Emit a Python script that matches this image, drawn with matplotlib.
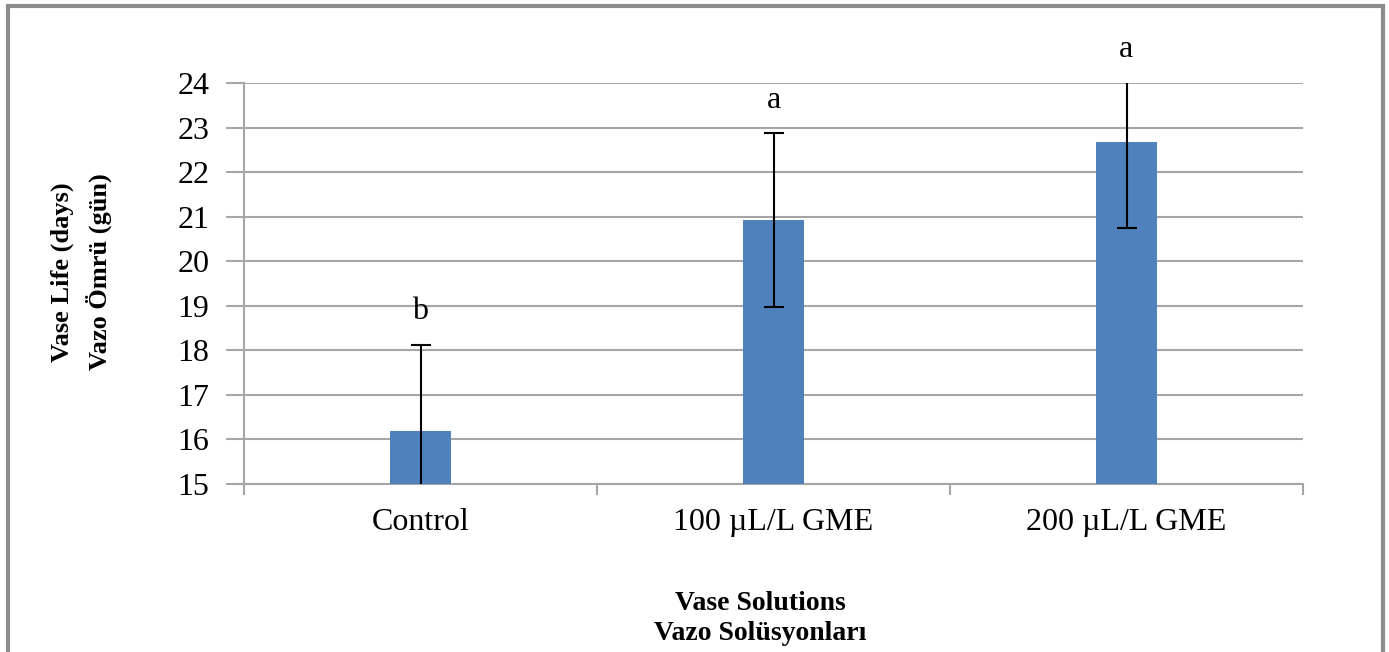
import matplotlib
matplotlib.use("Agg")
import matplotlib.pyplot as plt
from matplotlib.patches import Rectangle

# Vase life data (mean ± error) per vase solution
categories = ["Control", "100 µL/L GME", "200 µL/L GME"]
vase_life = [16.19, 20.92, 22.67]
errors = [1.93, 1.95, 1.93]
letters = ["b", "a", "a"]
y_ticks = [15, 16, 17, 18, 19, 20, 21, 22, 23, 24]

plt.rcParams["font.family"] = ["Liberation Serif", "DejaVu Serif"]

fig = plt.figure(figsize=(13.89, 6.52), dpi=100)
W, H = 1389, 652
ax = fig.add_axes([244 / W, 1 - 484 / H, (1303 - 244) / W, (484 - 83) / H])

grid_c = "#a6a6a6"
y_min, y_max = y_ticks[0], y_ticks[-1]
x = list(range(len(categories)))
ax.bar(x, vase_life, width=0.175, color="#4F81BD", zorder=3)
ax.errorbar(x, vase_life, yerr=errors, fmt="none", ecolor="black",
            elinewidth=1.5, capsize=7, capthick=1.5, zorder=4)

# significance letters sit just above the visible end of each error bar
for xi, v, e, t in zip(x, vase_life, errors, letters):
    top = min(v + e, y_max)
    ax.text(xi, top + 0.42, t, ha="center", va="bottom", fontsize=23,
            clip_on=False)

ax.set_xlim(-0.5, len(categories) - 0.5)
ax.set_ylim(y_min, y_max)
ax.set_yticks(y_ticks)
ax.yaxis.grid(True, color=grid_c, linewidth=1.5, zorder=0)
ax.set_axisbelow(True)

ax.set_xticks([i - 0.5 for i in range(len(categories) + 1)], minor=False)
ax.set_xticklabels([])
ax.set_xticks(x, minor=True)
ax.set_xticklabels(categories, minor=True, fontsize=23)
ax.tick_params(axis="x", which="minor", length=0, pad=17)
ax.tick_params(axis="x", which="major", length=8, width=1.5, color=grid_c, direction="out")
ax.tick_params(axis="y", length=13, width=1.5, color=grid_c, labelsize=23, pad=12)

for s in ["top", "right"]:
    ax.spines[s].set_visible(False)
for s in ["left", "bottom"]:
    ax.spines[s].set_color(grid_c)
    ax.spines[s].set_linewidth(1.5)

fig.text(760 / W, 1 - 603 / H, "Vase Solutions", ha="center", va="center",
         fontsize=20, fontweight="bold")
fig.text(760 / W, 1 - 634 / H, "Vazo Solüsyonları", ha="center", va="center",
         fontsize=20, fontweight="bold")
fig.text(62 / W, 1 - 272 / H, "Vase Life (days)", ha="center", va="center",
         rotation=90, fontsize=19, fontweight="bold")
fig.text(99 / W, 1 - 272 / H, "Vazo Ömrü (gün)", ha="center", va="center",
         rotation=90, fontsize=19, fontweight="bold")

# outer chart frame
fig.patches.append(Rectangle((8 / W, -0.01), (1383 - 8) / W, 1 - 6 / H + 0.01,
                             transform=fig.transFigure, fill=False,
                             edgecolor="#8c8c8c", linewidth=3))

fig.savefig("out.png", dpi=100)
